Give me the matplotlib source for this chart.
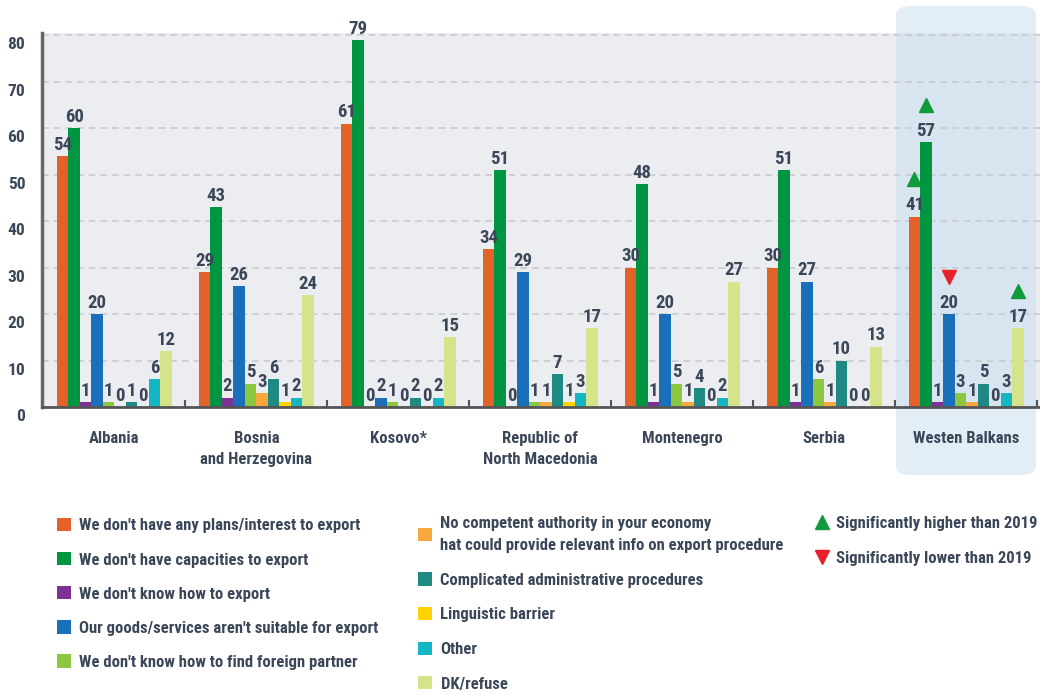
import matplotlib
matplotlib.use("Agg")
import matplotlib.pyplot as plt
import matplotlib.transforms as mtrans
from matplotlib.patches import Patch, FancyBboxPatch
from matplotlib.lines import Line2D
import numpy as np

plt.rcParams['font.family'] = ['Roboto Condensed', 'DejaVu Sans']
plt.rcParams['font.weight'] = 'bold'

# Economies on the x axis
groups = ["Albania", "Bosnia\nand Herzegovina", "Kosovo*", "Republic of\nNorth Macedonia",
          "Montenegro", "Serbia", "Westen Balkans"]

# Reasons (one series per reason), values in %
reasons = [
    "We don't have any plans/interest to export",
    "We don't have capacities to export",
    "We don't know how to export",
    "Our goods/services aren't suitable for export",
    "We don't know how to find foreign partner",
    "No competent authority in your economy\nhat could provide relevant info on export procedure",
    "Complicated administrative procedures",
    "Linguistic barrier",
    "Other",
    "DK/refuse",
]
plans      = [54, 29, 61, 34, 30, 30, 41]
capacities = [60, 43, 79, 51, 48, 51, 57]
know_how   = [1, 2, 0, 0, 1, 1, 1]
goods      = [20, 26, 2, 29, 20, 27, 20]
partner    = [1, 5, 1, 1, 5, 6, 3]
authority  = [0, 3, 0, 1, 1, 1, 1]
admin      = [1, 6, 2, 7, 4, 10, 5]
language   = [0, 1, 0, 1, 0, 0, 0]
other      = [6, 2, 2, 3, 2, 0, 3]
dk_refuse  = [12, 24, 15, 17, 27, 13, 17]
series = [plans, capacities, know_how, goods, partner, authority, admin, language, other, dk_refuse]

colors = ["#e2622a", "#009540", "#7b3294", "#1a6fba", "#8dc63f",
          "#f7a940", "#1f8a84", "#ffd200", "#14b6c4", "#d5e38a"]

# Change vs 2019 for Western Balkans: (series index, +1 higher / -1 lower)
wb_changes = [(0, 1), (1, 1), (3, -1), (9, 1)]

label_color = "#3b4759"
up_color = "#0f9a3c"
down_color = "#e8202a"

fig = plt.figure(figsize=(10.4, 6.95), dpi=100)
ax = fig.add_axes([42 / 1040, 0.4144, 1 - 42 / 1040, 0.5381])
ax.set_facecolor("#ebedf0")
ax.set_axisbelow(True)

# highlight box behind Western Balkans
hl = FancyBboxPatch((896 / 1040, (695 - 475) / 695), 140 / 1040, 469 / 695,
                    boxstyle="round,pad=0,rounding_size=0.014",
                    transform=fig.transFigure, facecolor="#c7ddef", alpha=0.5,
                    edgecolor="none", zorder=0.4, clip_on=False)
ax.add_patch(hl)

x = np.arange(len(groups))
w = 0.081
for j, vals in enumerate(series):
    pos = x + (j - 4.5) * w
    ax.bar(pos, vals, width=w, color=colors[j], zorder=2)
    for xi, v in zip(pos, vals):
        ax.text(xi, v + 0.5, str(v), ha="center", va="bottom", fontsize=13.5,
                color=label_color, fontweight="bold", zorder=3)

# significance markers for the regional average
wb = len(groups) - 1
for j, d in wb_changes:
    xi = wb + (j - 4.5) * w
    v = series[j][wb]
    ax.plot(xi, v + 8, marker="^" if d > 0 else "v",
            color=up_color if d > 0 else down_color, markersize=10, zorder=3)

ax.set_xlim(-0.51, 6.52)
ax.set_ylim(0, 80.5)
ax.set_yticks(np.arange(0, 81, 10))
ax.yaxis.grid(True, color="#c9cbce", linestyle=(0, (4, 3)), linewidth=1.2)
ax.tick_params(axis="y", length=0, pad=12, labelsize=12.5, labelcolor=label_color)
off = mtrans.ScaledTranslation(0, -8 / 100, fig.dpi_scale_trans)
for lab in ax.get_yticklabels():
    lab.set_transform(lab.get_transform() + off)
    lab.set_fontweight("bold")

ax.set_xticks(x)
ax.set_xticklabels(groups, fontsize=12, color=label_color, fontweight="bold", linespacing=1.5)
ax.tick_params(axis="x", which="major", length=0, pad=17)
ax.set_xticks(np.arange(len(groups)) + 0.5, minor=True)
ax.tick_params(axis="x", which="minor", direction="in", length=5, width=1.5, color="#555555")

for s in ["top", "right"]:
    ax.spines[s].set_visible(False)
ax.spines["left"].set_color("#666666")
ax.spines["left"].set_linewidth(2.5)
ax.spines["bottom"].set_color("#555555")
ax.spines["bottom"].set_linewidth(2)

# legend: three columns
handles = [Patch(facecolor=c, edgecolor="none") for c in colors]
leg_kw = dict(frameon=False, handlelength=0.85, handleheight=0.85,
              borderpad=0, borderaxespad=0,
              labelcolor=label_color, prop={"weight": "bold", "size": 12})
leg1 = fig.legend(handles[:5], reasons[:5], loc="upper left", handletextpad=0.45,
                  bbox_to_anchor=(57 / 1040, 1 - 518 / 695), labelspacing=1.12, **leg_kw)
leg2 = fig.legend(handles[5:], reasons[5:], loc="upper left", handletextpad=0.5,
                  bbox_to_anchor=(418 / 1040, 1 - 516 / 695), labelspacing=1.15, **leg_kw)
leg2.get_texts()[0].set_linespacing(1.6)
tri = [Line2D([], [], marker="^", color=up_color, linestyle="none", markersize=10),
       Line2D([], [], marker="v", color=down_color, linestyle="none", markersize=10)]
leg3 = fig.legend(tri, ["Significantly higher than 2019", "Significantly lower than 2019"],
                  loc="upper left", bbox_to_anchor=(815 / 1040, 1 - 516 / 695),
                  labelspacing=1.15, handletextpad=0.4, **leg_kw)

fig.savefig("out.png", dpi=100)
